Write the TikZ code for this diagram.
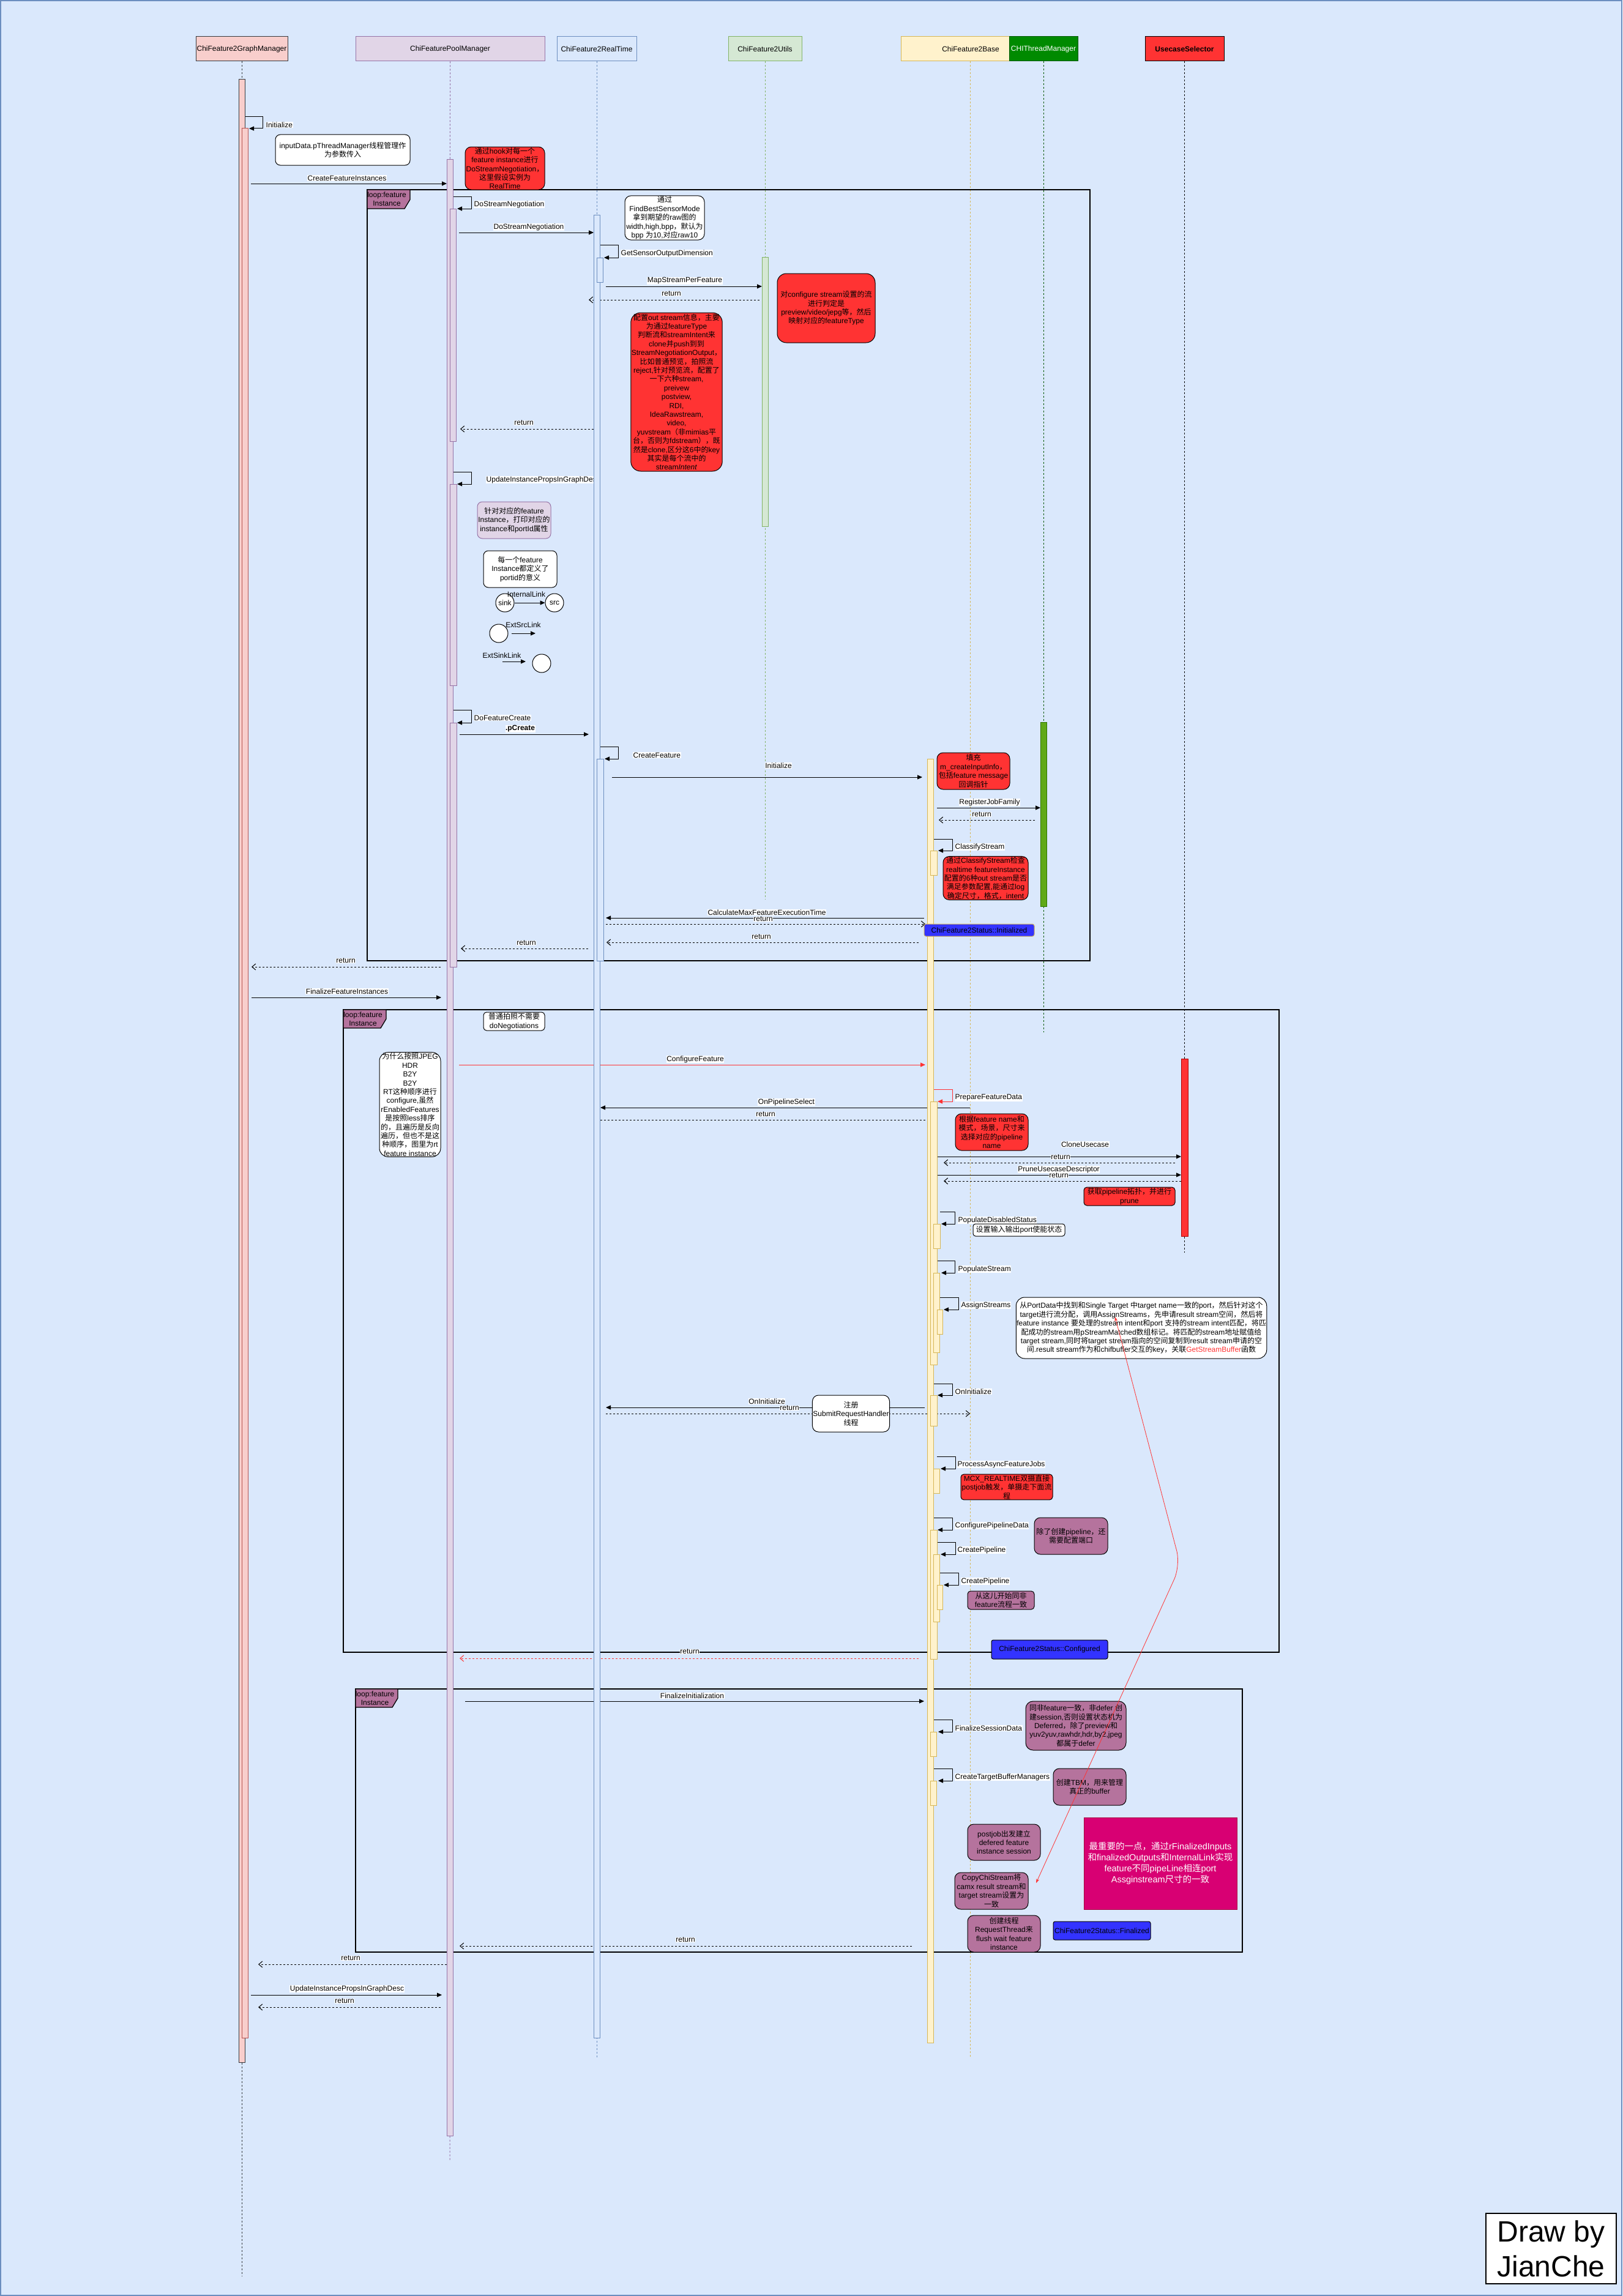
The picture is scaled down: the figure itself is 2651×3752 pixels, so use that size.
\documentclass[tikz,border=0pt]{standalone}
\usepackage{fontspec}
\setmainfont{Liberation Sans}
\newfontfamily\latinfont{Liberation Sans}
\newfontfamily\cjkfont{Noto Sans CJK SC}
\usetikzlibrary{arrows.meta}
\XeTeXinterchartokenstate=1
\newXeTeXintercharclass\cjkclass
\makeatletter
\count@="4E00
\loop\ifnum\count@<"A000 \XeTeXcharclass\count@=\cjkclass \advance\count@ 1 \repeat
\count@="3000
\loop\ifnum\count@<"3040 \XeTeXcharclass\count@=\cjkclass \advance\count@ 1 \repeat
\count@="FF00
\loop\ifnum\count@<"FFF0 \XeTeXcharclass\count@=\cjkclass \advance\count@ 1 \repeat
\makeatother
\XeTeXinterchartoks 0 \cjkclass = {\cjkfont}
\XeTeXinterchartoks 4095 \cjkclass = {\cjkfont}
\XeTeXinterchartoks \cjkclass 0 = {\latinfont}
\XeTeXinterchartoks \cjkclass 4095 = {\latinfont}

\definecolor{bgblue}{HTML}{DAE8FC}
\definecolor{bgborder}{HTML}{6C8EBF}
\definecolor{pinkf}{HTML}{F8CECC}
\definecolor{pinks}{HTML}{B85450}
\definecolor{darks}{HTML}{36393D}
\definecolor{purf}{HTML}{E1D5E7}
\definecolor{purs}{HTML}{9673A6}
\definecolor{bluef}{HTML}{DAE8FC}
\definecolor{blues}{HTML}{6C8EBF}
\definecolor{greenf}{HTML}{D5E8D4}
\definecolor{greens}{HTML}{82B366}
\definecolor{yelf}{HTML}{FFF2CC}
\definecolor{yels}{HTML}{D6B656}
\definecolor{thrf}{HTML}{008A00}
\definecolor{thrs}{HTML}{005700}
\definecolor{thrbar}{HTML}{60A917}
\definecolor{thrbars}{HTML}{2D7600}
\definecolor{redf}{HTML}{FF3333}
\definecolor{reds}{HTML}{B20000}
\definecolor{tabf}{HTML}{B5739D}
\definecolor{statf}{HTML}{3333FF}
\definecolor{magf}{HTML}{D80073}
\definecolor{mags}{HTML}{A50040}

\tikzset{
  msgline/.style={draw=black, line width=1pt, -{Triangle[length=8pt,width=7pt]}},
  retline/.style={draw=black, line width=1pt, dash pattern=on 3pt off 3pt, -{Straight Barb[length=6pt,width=10pt]}},
  msglbl/.style={fill=white, inner sep=0.5pt, font=\fontsize{12}{14.4}\selectfont},
  notebox/.style={draw=black, rounded corners=8pt, align=center, inner sep=1pt, font=\fontsize{12}{14.4}\selectfont, line width=1pt},
  whitenote/.style={notebox, fill=white},
  rednote/.style={notebox, fill=redf, rounded corners=10pt},
  purnote/.style={notebox, fill=tabf, rounded corners=10pt},
  lpurnote/.style={notebox, fill=purf, draw=purs},
  statbox/.style={notebox, fill=statf, rounded corners=3pt},
  hdrbox/.style={draw, line width=1pt, inner sep=1pt, font=\fontsize{12}{14.4}\selectfont},
  lifeln/.style={line width=1pt, dash pattern=on 3pt off 3pt},
  framel/.style={draw=black, line width=1.3pt},
  tabtxt/.style={align=center, inner sep=0pt, font=\fontsize{12}{14.4}\selectfont},
  actbar/.style={line width=1pt},
  portc/.style={circle, draw=black, fill=white, line width=1pt, minimum size=30pt, inner sep=0pt, font=\fontsize{12}{14.4}\selectfont},
}

\newcounter{mc}
\newcommand\callm[7]{%
  \stepcounter{mc}%
  \coordinate (ms\themc) at (#2,#4);
  \coordinate (me\themc) at (#3,#4);
  \draw[#1] (ms\themc) -- (me\themc);
  \node[msglbl] (ml\themc) at (#5,#6) {#7};
}
\newcommand\selfm[9][]{%
  \stepcounter{mc}%
  \coordinate (ss\themc) at (#2,#4);
  \coordinate (se\themc) at (#6,#5);
  \draw[msgline,#1] (ss\themc) -- (#3,#4) -- (#3,#5) -- (se\themc);
  \node[msglbl, anchor=west] (sl\themc) at (#7,#8) {#9};
}
\newcommand\notebx[7]{%
  \node[#2, minimum width={#5-#3}, minimum height={#6-#4}] (#1) at ({(#3+#5)/2},{(#4+#6)/2}) {#7};
}
\newcommand\actb[5]{\draw[actbar,#5] (#1,#2) rectangle (#3,#4);}
\newcommand\loopframe[6]{%
  \draw[framel] (#1,#2) rectangle (#3,#4);
  \draw[framel, fill=tabf] (#1,#2) -- (#5,#2) -- (#5,{#6-15}) -- ({#5-9},#6) -- (#1,#6) -- cycle;
  \node[tabtxt] at ({(#1+#5)/2-3},{(#2+#6)/2}) {loop:feature\\Instance};
}

\begin{document}
\begin{tikzpicture}[x=1pt,y=-1pt]
\useasboundingbox (0,0) rectangle (2651,3752);
\fill[bgblue] (0,0) rectangle (2651,3752);
\draw[bgborder, line width=2pt] (1,1) rectangle (2650,3751);

% ---------- headers ----------
\node[hdrbox, fill=pinkf, draw=darks, minimum width=150pt, minimum height=40pt] (hGM) at (395,80) {ChiFeature2GraphManager};
\node[hdrbox, fill=purf, draw=purs, minimum width=309pt, minimum height=40pt] (hPM) at (735.5,80) {ChiFeaturePoolManager};
\node[hdrbox, fill=bluef, draw=blues, minimum width=130pt, minimum height=40pt] (hRT) at (975,80) {ChiFeature2RealTime};
\node[hdrbox, fill=greenf, draw=greens, minimum width=120pt, minimum height=40pt] (hUT) at (1250,80) {ChiFeature2Utils};
\node[hdrbox, fill=yelf, draw=yels, minimum width=228pt, minimum height=40pt] (hBA) at (1586,80) {ChiFeature2Base};
\node[hdrbox, fill=thrf, draw=thrs, text=white, minimum width=112pt, minimum height=40pt] (hTM) at (1705,80) {CHIThreadManager};
\node[hdrbox, fill=redf, draw=black, minimum width=129pt, minimum height=40pt, font=\fontsize{12}{14.4}\selectfont\bfseries] (hUS) at (1935.5,80) {UsecaseSelector};

% ---------- lifelines ----------
\coordinate (eGM) at (395,3720);
\coordinate (ePM) at (735,3530);
\coordinate (eRT) at (975,3362);
\coordinate (eUT) at (1250,1470);
\coordinate (eBA) at (1585,3362);
\coordinate (eTM) at (1705,1687);
\coordinate (eUS) at (1935.5,2047);
\draw[lifeln, draw=darks] (hGM.south) -- (eGM);
\draw[lifeln, draw=purs] (hPM.south) -- (ePM);
\draw[lifeln, draw=blues] (hRT.south) -- (eRT);
\draw[lifeln, draw=greens] (hUT.south) -- (eUT);
\draw[lifeln, draw=yels] (1585,100) -- (eBA);
\draw[lifeln, draw=thrs] (hTM.south) -- (eTM);
\draw[lifeln, draw=black] (hUS.south) -- (eUS);

% ---------- loop frames ----------
\loopframe{600}{310}{1781}{1570}{670}{341}
\loopframe{561}{1650}{2090}{2700}{631}{1680}
\loopframe{581}{2760}{2030}{3190}{650}{2790}

% ---------- messages ----------
\callm{msgline}{410}{730}{300}{567}{291}{CreateFeatureInstances}
\callm{msgline}{750}{970}{380}{864}{371}{DoStreamNegotiation}
\callm{msgline}{990}{1245}{468}{1119}{459}{MapStreamPerFeature}
\callm{retline}{1241}{962}{490}{1097}{480}{return}
\callm{retline}{970}{752}{701}{856}{691}{return}
\callm{msgline}{751}{962}{1200}{850}{1191}{\bfseries .pCreate}
\callm{msgline}{1000}{1507}{1270}{1272}{1251}{Initialize}
\callm{msgline}{1531}{1700}{1320}{1617}{1311}{RegisterJobFamily}
\callm{retline}{1691}{1534}{1340}{1604}{1331}{return}
\callm{msgline}{1510}{990}{1500}{1253}{1491}{CalculateMaxFeatureExecutionTime}
\callm{retline}{990}{1512}{1510}{1247}{1502}{return}
\callm{retline}{1501}{991}{1540}{1244}{1531}{return}
\callm{retline}{961}{753}{1550}{860}{1541}{return}
\callm{retline}{720}{411}{1580}{565}{1570}{return}
\callm{msgline}{411}{721}{1630}{567}{1620}{FinalizeFeatureInstances}
\callm{msgline,draw=redf}{750}{1512}{1740}{1136}{1731}{ConfigureFeature}
\callm{msgline}{1585}{981}{1810}{1285}{1801}{OnPipelineSelect}
\callm{retline}{981}{1524}{1830}{1251}{1821}{return}
\callm{msgline}{1531}{1930}{1890}{1773}{1870}{CloneUsecase}
\callm{retline}{1920}{1542}{1900}{1733}{1891}{return}
\callm{msgline}{1531}{1930}{1920}{1730}{1911}{PruneUsecaseDescriptor}
\callm{retline}{1930}{1542}{1930}{1730}{1921}{return}
\callm{msgline}{1511}{990}{2300}{1253}{2290}{OnInitialize}
\callm{retline}{990}{1585}{2310}{1290}{2301}{return}
\callm{retline,draw=redf}{1501}{751}{2710}{1127}{2699}{return}
\callm{msgline}{760}{1510}{2780}{1131}{2771}{FinalizeInitialization}
\callm{retline}{1490}{751}{3180}{1120}{3170}{return}
\callm{retline}{730}{422}{3210}{573}{3200}{return}
\callm{msgline}{410}{722}{3260}{567}{3250}{UpdateInstancePropsInGraphDesc}
\callm{retline}{720}{422}{3280}{563}{3270}{return}

% ---------- self calls ----------
\selfm{401}{429}{191}{210}{407}{434}{204}{Initialize}
\selfm{740}{770}{321}{341}{747}{774}{334}{DoStreamNegotiation}
\selfm{980}{1010}{400}{421}{987}{1014}{414}{GetSensorOutputDimension}
\selfm{740}{770}{771}{791}{747}{794}{784}{UpdateInstancePropsInGraphDes}
\selfm{740}{770}{1160}{1181}{747}{774}{1173}{DoFeatureCreate}
\selfm{981}{1010}{1220}{1240}{988}{1034}{1234}{CreateFeature}
\selfm{1525}{1556}{1371}{1390}{1533}{1560}{1384}{ClassifyStream}
\selfm[draw=redf]{1525}{1556}{1780}{1800}{1532}{1560}{1794}{PrepareFeatureData}
\selfm{1536}{1560}{1980}{2000}{1538}{1565}{1994}{PopulateDisabledStatus}
\selfm{1531}{1560}{2060}{2080}{1538}{1565}{2074}{PopulateStream}
\selfm{1535}{1566}{2120}{2140}{1542}{1570}{2133}{AssignStreams}
\selfm{1525}{1556}{2261}{2280}{1532}{1560}{2274}{OnInitialize}
\selfm{1531}{1561}{2380}{2400}{1537}{1564}{2393}{ProcessAsyncFeatureJobs}
\selfm{1525}{1556}{2480}{2500}{1532}{1560}{2493}{ConfigurePipelineData}
\selfm{1531}{1561}{2520}{2540}{1537}{1564}{2533}{CreatePipeline}
\selfm{1535}{1566}{2570}{2590}{1542}{1570}{2584}{CreatePipeline}
\selfm{1525}{1556}{2810}{2830}{1533}{1560}{2824}{FinalizeSessionData}
\selfm{1525}{1556}{2890}{2910}{1533}{1560}{2904}{CreateTargetBufferManagers}

% ---------- activation bars ----------
\actb{390}{130}{400}{3370}{fill=pinkf, draw=darks}
\actb{395}{210}{405}{3330}{fill=pinkf, draw=pinks}
\actb{730}{260}{740}{3490}{fill=purf, draw=purs}
\actb{735}{341}{745}{721}{fill=purf, draw=purs}
\actb{735}{791}{746}{1120}{fill=purf, draw=purs}
\actb{735}{1181}{746}{1580}{fill=purf, draw=purs}
\actb{970}{351}{980}{3330}{fill=bluef, draw=blues}
\actb{975}{421}{985}{461}{fill=bluef, draw=blues}
\actb{975}{1240}{986}{1570}{fill=bluef, draw=blues}
\actb{1245}{420}{1255}{860}{fill=greenf, draw=greens}
\actb{1700}{1180}{1710}{1481}{fill=thrbar, draw=thrbars}
\actb{1930}{1730}{1941}{2020}{fill=redf, draw=reds}
\actb{1515}{1240}{1525}{3338}{fill=yelf, draw=yels}
\actb{1520}{1390}{1531}{1430}{fill=yelf, draw=yels}
\actb{1520}{1800}{1531}{2230}{fill=yelf, draw=yels}
\actb{1525}{2000}{1536}{2040}{fill=yelf, draw=yels}
\actb{1525}{2080}{1535}{2210}{fill=yelf, draw=yels}
\actb{1531}{2140}{1540}{2180}{fill=yelf, draw=yels}
\actb{1520}{2280}{1531}{2330}{fill=yelf, draw=yels}
\actb{1525}{2400}{1535}{2440}{fill=yelf, draw=yels}
\actb{1520}{2500}{1531}{2711}{fill=yelf, draw=yels}
\actb{1525}{2540}{1535}{2650}{fill=yelf, draw=yels}
\actb{1531}{2590}{1540}{2630}{fill=yelf, draw=yels}
\actb{1520}{2830}{1530}{2870}{fill=yelf, draw=yels}
\actb{1520}{2910}{1530}{2950}{fill=yelf, draw=yels}

% ---------- port link legend ----------
\node[portc] (sink) at (825,985) {sink};
\node[portc] (src) at (906,985) {src};
\draw[msgline] (sink) -- (src);
\node[inner sep=0pt, font=\fontsize{12}{14.4}\selectfont] (lint) at (860,971) {InternalLink};
\node[portc] (esrc) at (815,1035) {};
\coordinate (esa) at (836,1035); \coordinate (esb) at (875,1035);
\draw[msgline] (esa) -- (esb);
\node[inner sep=0pt, font=\fontsize{12}{14.4}\selectfont] (lesrc) at (855,1021) {ExtSrcLink};
\node[portc] (esnk) at (885,1084) {};
\coordinate (eka) at (821,1081); \coordinate (ekb) at (859,1081);
\draw[msgline] (eka) -- (ekb);
\node[inner sep=0pt, font=\fontsize{12}{14.4}\selectfont] (lesnk) at (820,1071) {ExtSinkLink};

% ---------- notes ----------
\notebx{n1}{whitenote}{450}{220}{670}{270}{inputData.pThreadManager线程管理作\\为参数传入}
\notebx{n2}{rednote}{760}{240}{890}{310}{通过hook对每一个\\feature instance进行\\DoStreamNegotiation，\\这里假设实例为\\RealTime}
\notebx{n3}{whitenote, rounded corners=10pt}{1021}{321}{1151}{391}{通过\\FindBestSensorMode\\拿到期望的raw图的\\width,high,bpp，默认为\\bpp 为10,对应raw10}
\notebx{n4}{rednote, rounded corners=15pt}{1270}{447}{1430}{560}{对configure stream设置的流\\进行判定是\\preview/video/jepg等，然后\\映射对应的featureType}
\notebx{n5}{rednote, rounded corners=16pt}{1031}{511}{1180}{770}{配置out stream信息，主要\\为通过featureType\\判断流和streamIntent来\\clone并push到到\\StreamNegotiationOutput，\\比如普通预览，拍照流\\reject,针对预览流，配置了\\一下六种stream,\\preivew\\postview,\\RDI,\\IdeaRawstream,\\video,\\yuvstream（非mimias平\\台，否则为fdstream），既\\然是clone,区分这6中的key\\其实是每个流中的\\stream\textit{Intent}}
\notebx{n6}{lpurnote}{780}{820}{900}{880}{针对对应的feature\\Instance，打印对应的\\instance和portId属性}
\notebx{n7}{whitenote}{790}{900}{910}{960}{每一个feature\\Instance都定义了\\portid的意义}
\notebx{n8}{rednote}{1531}{1230}{1650}{1290}{填充\\m\_createInputInfo，\\包括feature message\\回调指针}
\notebx{n9}{rednote}{1541}{1400}{1680}{1470}{通过ClassifyStream检查\\realtime featureInstance\\配置的6种out stream是否\\满足参数配置,能通过log\\确定尺寸，格式，intent}
\notebx{s1}{statbox, draw=yels}{1510}{1510}{1690}{1530}{ChiFeature2Status::Initialized}
\notebx{n10}{whitenote, rounded corners=5pt}{790}{1654}{890}{1684}{普通拍照不需要\\doNegotiations}
\notebx{n11}{whitenote, rounded corners=14pt}{620}{1720}{720}{1890}{为什么按照JPEG\\HDR\\B2Y\\B2Y\\RT这种顺序进行\\configure,虽然\\rEnabledFeatures\\是按照less排序\\的，且遍历是反向\\遍历，但也不是这\\种顺序，图里为rt\\feature instance}
\notebx{n12}{rednote}{1561}{1820}{1680}{1880}{根据feature name和\\模式，场景，尺寸来\\选择对应的pipeline\\name}
\notebx{n13}{rednote, rounded corners=5pt}{1771}{1940}{1920}{1970}{获取pipeline拓扑，并进行\\prune}
\notebx{n14}{whitenote, rounded corners=4pt}{1590}{2000}{1740}{2020}{设置输入输出port使能状态}
\notebx{n15}{whitenote, rounded corners=14pt}{1661}{2120}{2069}{2220}{从PortData中找到和Single Target 中target name一致的port，然后针对这个\\target进行流分配，调用AssignStreams，先申请result stream空间，然后将\\feature instance 要处理的stream intent和port 支持的stream intent匹配，将匹\\配成功的stream用pStreamMatched数组标记。将匹配的stream地址赋值给\\target stream,同时将target stream指向的空间复制到result stream申请的空\\间.result stream作为和chifbuffer交互的key，关联\textcolor{redf}{GetStreamBuffer}函数}
\notebx{n16}{whitenote, rounded corners=10pt}{1331}{2280}{1450}{2340}{注册\\SubmitRequestHandler\\线程}
\notebx{n17}{rednote, rounded corners=5pt}{1570}{2410}{1720}{2450}{MCX\_REALTIME双摄直接\\postjob触发，单摄走下面流\\程}
\notebx{n18}{purnote}{1690}{2480}{1810}{2540}{除了创建pipeline，还\\需要配置端口}
\notebx{n19}{purnote, rounded corners=5pt}{1581}{2600}{1690}{2630}{从这儿开始同非\\feature流程一致}
\notebx{s2}{statbox}{1620}{2680}{1810}{2711}{ChiFeature2Status::Configured}
\notebx{n20}{purnote, rounded corners=12pt}{1676}{2780}{1840}{2860}{同非feature一致，非defer 创\\建session,否则设置状态机为\\Deferred，除了preview和\\yuv2yuv,rawhdr,hdr,by2,jpeg\\都属于defer}
\notebx{n21}{purnote}{1721}{2890}{1840}{2950}{创建TBM，用来管理\\真正的buffer}
\notebx{n22}{purnote}{1581}{2981}{1700}{3040}{postjob出发建立\\defered feature\\instance session}
\notebx{n23}{purnote}{1560}{3060}{1680}{3120}{CopyChiStream将\\camx result stream和\\target stream设置为\\一致}
\notebx{n24}{purnote}{1581}{3130}{1700}{3190}{创建线程\\RequestThread来\\flush wait feature\\instance}
\notebx{n25}{notebox, fill=magf, draw=mags, rounded corners=0pt, text=white, font=\fontsize{14.5}{18}\selectfont}{1771}{2970}{2021}{3120}{最重要的一点，通过rFinalizedInputs\\和finalizedOutputs和InternalLink实现\\feature不同pipeLine相连port\\Assginstream尺寸的一致}
\notebx{s3}{statbox}{1721}{3140}{1880}{3170}{ChiFeature2Status::Finalized}

% ---------- red link ----------
\coordinate (rl1) at (1822,2152);
\coordinate (rl2) at (1929,2558);
\coordinate (rl3) at (1693,3077);
\draw[draw=redf, line width=0.8pt, rounded corners=25pt, {Stealth[length=7pt,width=5pt]}-{Stealth[length=7pt,width=5pt]}] (rl1) -- (rl2) -- (rl3);

% ---------- signature ----------
\node[draw=black, fill=white, line width=1.5pt, minimum width=213pt, minimum height=115pt, align=center, font=\fontsize{48}{57}\selectfont] (drawby) at (2534.5,3674.5) {Draw by\\JianChe};
\end{tikzpicture}
\end{document}
